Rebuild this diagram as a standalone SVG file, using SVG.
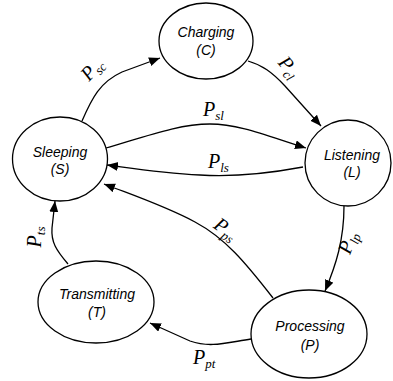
<svg xmlns="http://www.w3.org/2000/svg" width="393" height="381" viewBox="0 0 393 381">
<style>
.node ellipse{fill:#fff;stroke:#000;stroke-width:1.3}
.node text{font-family:"Liberation Sans",Arial,sans-serif;font-style:italic;font-size:14px;text-anchor:middle;fill:#000}
.edge{fill:none;stroke:#000;stroke-width:1.3;marker-end:url(#arr)}
.lbl{font-family:"Liberation Serif","Times New Roman",serif;font-style:italic;font-size:20px;fill:#000}
.sub{font-size:13px}
</style>
<defs>
<marker id="arr" markerUnits="userSpaceOnUse" markerWidth="12" markerHeight="10" refX="11" refY="4.5" orient="auto">
<path d="M0,0 L11,4.5 L0,9 z" fill="#000"/>
</marker>
</defs>
<rect width="393" height="381" fill="#fff"/>
<g id="connectors">
<path class="edge" d="M82,121 C92,98 100,82 122,72 L160,58"/>
<path class="edge" d="M248,61 C262,65 272,72 285,86 L321,126"/>
<path class="edge" d="M106,148 C150,135 180,124 210,124 C240,124 270,137 306,148"/>
<path class="edge" d="M303,167 C260,175 230,177 200,175 C160,173 130,168 107,165"/>
<path class="edge" d="M273,298 C245,262 225,238 195,222 C165,206 135,196 104,184"/>
<path class="edge" d="M344,206 C344,240 336,265 325,291"/>
<path class="edge" d="M251,339 C225,343 210,348 190,341 L150,323"/>
<path class="edge" d="M68,264 C56,250 51,242 52,228 L55,201"/>
</g>
<g id="labels">
<g transform="translate(93,70) rotate(-48)"><text class="lbl" x="0" y="5" text-anchor="middle">P<tspan class="sub" dy="4">sc</tspan></text></g>
<g transform="translate(288,68) rotate(50)"><text class="lbl" x="0" y="5" text-anchor="middle">P<tspan class="sub" dy="4">cl</tspan></text></g>
<text class="lbl" x="203" y="116">P<tspan class="sub" dy="4">sl</tspan></text>
<text class="lbl" x="208" y="168">P<tspan class="sub" dy="4">ls</tspan></text>
<g transform="translate(225,230) rotate(35)"><text class="lbl" x="0" y="5" text-anchor="middle">P<tspan class="sub" dy="4">ps</tspan></text></g>
<g transform="translate(349,243) rotate(-70)"><text class="lbl" x="0" y="5" text-anchor="middle">P<tspan class="sub" dy="4">lp</tspan></text></g>
<g transform="translate(36,237) rotate(-90)"><text class="lbl" x="0" y="5" text-anchor="middle">P<tspan class="sub" dy="4">ts</tspan></text></g>
<text class="lbl" x="193" y="364">P<tspan class="sub" dy="4">pt</tspan></text>
</g>
<g id="charging" class="node"><ellipse cx="206" cy="41" rx="47" ry="38"/><text x="206" y="37">Charging</text><text x="206" y="55">(C)</text></g>
<g id="sleeping" class="node"><ellipse cx="60" cy="159" rx="47.5" ry="42"/><text x="60" y="157">Sleeping</text><text x="60" y="174">(S)</text></g>
<g id="listening" class="node"><ellipse cx="348" cy="163" rx="43" ry="43"/><text x="352" y="160">Listening</text><text x="352" y="177">(L)</text></g>
<g id="transmitting" class="node"><ellipse cx="96" cy="302" rx="58" ry="41"/><text x="97" y="299">Transmitting</text><text x="97" y="317">(T)</text></g>
<g id="processing" class="node"><ellipse cx="309" cy="334" rx="58" ry="44"/><text x="310" y="331">Processing</text><text x="310" y="350">(P)</text></g>
</svg>
